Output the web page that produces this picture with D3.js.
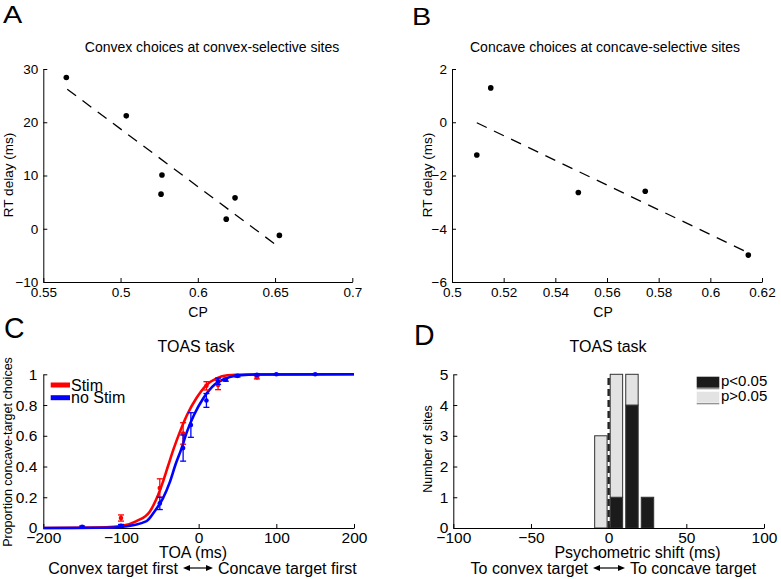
<!DOCTYPE html>
<html><head><meta charset="utf-8">
<script src="https://cdn.jsdelivr.net/npm/d3@7"></script>
<style>
body{margin:0;background:#fff}
text{font-family:"Liberation Sans",Arial,Helvetica,sans-serif;fill:#000}
</style>
</head><body>
<svg id="chart" width="781" height="579" style="background:#fff"></svg>
<script>
// ---------------- DATA ----------------
// Panel A
const cpA = [0.5149, 0.5537, 0.5768, 0.5762, 0.6184, 0.6241, 0.6528];
const rtA = [28.4, 21.2, 10.1, 6.5, 1.8, 5.8, -1.25];
const fitCpA = [0.5155, 0.6528];
const fitRtA = [26.2, -3.5];
const xTicksA = [0.5, 0.55, 0.6, 0.65, 0.7];
const xTickLabelsA = ["0.55", "0.5", "0.6", "0.65", "0.7"];
const yTicksA = [-10, 0, 10, 20, 30];
// Panel B
const cpB = [0.5096, 0.515, 0.5489, 0.5748, 0.6147];
const rtB = [-1.23, 1.29, -2.64, -2.59, -4.99];
const fitCpB = [0.5096, 0.6147];
const fitRtB = [-0.02, -4.9];
const xTicksB = [0.5, 0.52, 0.54, 0.56, 0.58, 0.6, 0.62];
const xTickLabelsB = ["0.5", "0.52", "0.54", "0.56", "0.58", "0.6", "0.62"];
const yTicksB = [-6, -4, -2, 0, 2];
// Panel C
const stimCurveX = [-200, -120, -100, -80, -63, -54, -46, -39, -32, -24, -15, -3, 10, 23, 37, 60, 200];
const stimCurveY = [0, 0.004, 0.012, 0.045, 0.106, 0.193, 0.30, 0.41, 0.518, 0.627, 0.735, 0.844, 0.93, 0.974, 0.994, 0.999, 1];
const noStimCurveX = [-200, -120, -100, -67, -57, -46, -37, -30, -22, -15, -6, 6, 21, 36, 55, 80, 200];
const noStimCurveY = [0, 0.002, 0.007, 0.045, 0.106, 0.193, 0.30, 0.41, 0.518, 0.627, 0.735, 0.844, 0.935, 0.975, 0.994, 0.999, 1];
const stimX = [-100, -50, -20, 10, 25, 75];
const stimY = [0.065, 0.26, 0.615, 0.925, 0.93, 0.98];
const stimErr = [0.02, 0.06, 0.07, 0.027, 0.03, 0.01];
const noStimX = [-150, -100, -50, -20, -10, 10, 25, 35, 50, 75, 100, 150];
const noStimY = [0.008, 0.015, 0.16, 0.52, 0.67, 0.83, 0.955, 0.965, 0.99, 0.997, 1, 1];
const noStimErr = [0.005, 0.008, 0.04, 0.085, 0.08, 0.045, 0.02, 0.01, 0.008, 0.005, 0.003, 0.003];
const xTicksC = [-200, -100, 0, 100, 200];
const yTicksC = [0, 0.2, 0.4, 0.6, 0.8, 1];
const yTickLabelsC = ["0", "0.2", "0.4", "0.6", "0.8", "1"];
const legendC = ["Stim", "no Stim"];
// Panel D
const binCenters = [-5, 5, 15, 25];
const sigCounts = [0, 1, 4, 1];
const nonSigCounts = [3, 4, 1, 0];
const xTicksD = [-100, -50, 0, 50, 100];
const yTicksD = [0, 1, 2, 3, 4, 5];
const legendD = ["p<0.05", "p>0.05"];

// ---------------- DRAW ----------------
const svg = d3.select("#chart");
const FONT = '"Liberation Sans",Arial,Helvetica,sans-serif';

function drawAxes(x, y, o) {
  const gx = svg.append("g").attr("transform", `translate(0,${y.range()[0]})`)
    .call(d3.axisBottom(x).tickValues(o.xt).tickSize(-4).tickSizeOuter(0)
      .tickPadding(o.xpad).tickFormat((d, i) => o.xl ? o.xl[i] : d3.format("")(d)));
  const gy = svg.append("g").attr("transform", `translate(${x.range()[0]},0)`)
    .call(d3.axisLeft(y).tickValues(o.yt).tickSize(-4).tickSizeOuter(0)
      .tickPadding(o.ypad).tickFormat((d, i) => o.yl ? o.yl[i] : d3.format("")(d)));
  [gx, gy].forEach(g => {
    g.attr("font-size", o.fs).attr("font-family", FONT);
    g.selectAll("path.domain").attr("stroke", "#000").attr("stroke-width", 1);
    g.selectAll(".tick line").attr("stroke", "#000");
    g.selectAll(".tick text").attr("fill", "#000").text(function(){return this.textContent.replace("-", "\u2212");});
  });
}
function txt(x, y, s, fs, anchor, rot) {
  const t = svg.append("text").attr("font-size", fs).attr("text-anchor", anchor || "middle").text(s);
  if (rot) t.attr("transform", `translate(${x},${y}) rotate(-90)`);
  else t.attr("x", x).attr("y", y);
  return t;
}
function letter(x, y, s, fs, sx) {
  svg.append("text").attr("font-size", fs).attr("transform", `translate(${x},${y}) scale(${sx},1)`).text(s);
}

// ---- Panel A ----
const xA = d3.scaleLinear().domain([0.5, 0.7]).range([43.3, 352.3]);
const yA = d3.scaleLinear().domain([-10, 30]).range([282, 69]);
drawAxes(xA, yA, {xt: xTicksA, xl: xTickLabelsA, yt: yTicksA, fs: 13.5, xpad: 5, ypad: 5});
svg.append("line").attr("x1", xA(fitCpA[0])).attr("y1", yA(fitRtA[0]))
  .attr("x2", xA(fitCpA[1])).attr("y2", yA(fitRtA[1]))
  .attr("stroke", "#000").attr("stroke-width", 1.3).attr("stroke-dasharray", "11,8");
svg.append("g").selectAll("circle").data(cpA).join("circle")
  .attr("cx", d => xA(d)).attr("cy", (d, i) => yA(rtA[i])).attr("r", 2.8).attr("fill", "#000");
txt(212, 52, "Convex choices at convex-selective sites", 14);
txt(198, 317, "CP", 14);
txt(13, 175, "RT delay (ms)", 13.5, "middle", true);
letter(3, 23, "A", 24, 1.2);

// ---- Panel B ----
const xB = d3.scaleLinear().domain([0.5, 0.62]).range([452, 762]);
const yB = d3.scaleLinear().domain([-6, 2]).range([282, 69]);
drawAxes(xB, yB, {xt: xTicksB, xl: xTickLabelsB, yt: yTicksB, fs: 13.5, xpad: 5, ypad: 5});
svg.append("line").attr("x1", xB(fitCpB[0])).attr("y1", yB(fitRtB[0]))
  .attr("x2", xB(fitCpB[1])).attr("y2", yB(fitRtB[1]))
  .attr("stroke", "#000").attr("stroke-width", 1.3).attr("stroke-dasharray", "11,8");
svg.append("g").selectAll("circle").data(cpB).join("circle")
  .attr("cx", d => xB(d)).attr("cy", (d, i) => yB(rtB[i])).attr("r", 2.8).attr("fill", "#000");
txt(605, 52, "Concave choices at concave-selective sites", 14);
txt(603, 317, "CP", 14);
txt(432, 175, "RT delay (ms)", 13.5, "middle", true);
letter(412, 25, "B", 24, 1.2);

// ---- Panel C ----
const xC = d3.scaleLinear().domain([-200, 200]).range([43.3, 354]);
const yC = d3.scaleLinear().domain([0, 1]).range([528, 374.3]);
drawAxes(xC, yC, {xt: xTicksC, yt: yTicksC, yl: yTickLabelsC, fs: 15.5, xpad: 4, ypad: 6});
const lineC = d3.line().x(d => xC(d[0])).y(d => yC(d[1])).curve(d3.curveMonotoneX);
const RED = "#f00", BLUE = "#00f";
svg.append("path").attr("d", lineC(stimCurveX.map((v, i) => [v, stimCurveY[i]])))
  .attr("fill", "none").attr("stroke", RED).attr("stroke-width", 2.6);
svg.append("path").attr("d", lineC(noStimCurveX.map((v, i) => [v, noStimCurveY[i]])))
  .attr("fill", "none").attr("stroke", BLUE).attr("stroke-width", 2.6);
function errPts(X, Y, E, col) {
  const g = svg.append("g").attr("stroke", col).attr("fill", col);
  X.forEach((v, i) => {
    const cx = xC(v), t = yC(Y[i] + E[i]), b = yC(Y[i] - E[i]);
    g.append("line").attr("x1", cx).attr("x2", cx).attr("y1", t).attr("y2", b).attr("stroke-width", 1.3);
    g.append("line").attr("x1", cx - 3).attr("x2", cx + 3).attr("y1", t).attr("y2", t).attr("stroke-width", 1.3);
    g.append("line").attr("x1", cx - 3).attr("x2", cx + 3).attr("y1", b).attr("y2", b).attr("stroke-width", 1.3);
    g.append("circle").attr("cx", cx).attr("cy", yC(Y[i])).attr("r", 2.3).attr("stroke", "none");
  });
}
errPts(stimX, stimY, stimErr, RED);
errPts(noStimX, noStimY, noStimErr, BLUE);
// legend
[RED, BLUE].forEach((c, i) => {
  const ly = 385 + i * 12.7;
  svg.append("line").attr("x1", 50.7).attr("x2", 70).attr("y1", ly).attr("y2", ly)
    .attr("stroke", c).attr("stroke-width", 5);
  txt(71, ly + 5.5, legendC[i], 16, "start");
});
txt(196, 352, "TOAS task", 16);
txt(193, 558, "TOA (ms)", 16);
txt(12, 452, "Proportion concave-target choices", 12.5, "middle", true);
function arrowLine(x1, x2, y, left, right, cx) {
  txt(x1 - 5, y + 5.5, left, 16, "end");
  txt(x2 + 5, y + 5.5, right, 16, "start");
  svg.append("line").attr("x1", x1 + 3).attr("x2", x2 - 3).attr("y1", y).attr("y2", y)
    .attr("stroke", "#000").attr("stroke-width", 1.2);
  svg.append("path").attr("d", `M${x1},${y}l7,-3v6z`).attr("fill", "#000");
  svg.append("path").attr("d", `M${x2},${y}l-7,-3v6z`).attr("fill", "#000");
}
arrowLine(183, 213, 568, "Convex target first", "Concave target first");
letter(4, 338, "C", 30, 0.95);

// ---- Panel D ----
const xD = d3.scaleLinear().domain([-100, 100]).range([453.3, 764]);
const yD = d3.scaleLinear().domain([0, 5]).range([528, 374.3]);
const BW = 8;
const DARK = "#1b1b1b", LIGHT = "#e3e3e3";
const gb = svg.append("g");
binCenters.forEach((c, i) => {
  const x0 = xD(c - BW / 2), w = xD(c + BW / 2) - xD(c - BW / 2);
  if (sigCounts[i] > 0)
    gb.append("rect").attr("x", x0).attr("width", w).attr("y", yD(sigCounts[i]))
      .attr("height", yD(0) - yD(sigCounts[i])).attr("fill", DARK).attr("stroke", "#333").attr("stroke-width", 1);
  if (nonSigCounts[i] > 0)
    gb.append("rect").attr("x", x0).attr("width", w).attr("y", yD(sigCounts[i] + nonSigCounts[i]))
      .attr("height", yD(sigCounts[i]) - yD(sigCounts[i] + nonSigCounts[i])).attr("fill", LIGHT)
      .attr("stroke", "#333").attr("stroke-width", 1);
});
drawAxes(xD, yD, {xt: xTicksD, yt: yTicksD, fs: 15.5, xpad: 4, ypad: 5});
svg.append("line").attr("x1", xD(0)).attr("x2", xD(0)).attr("y1", yD(0)).attr("y2", yD(5))
  .attr("stroke", "#222").attr("stroke-width", 2.4).attr("stroke-dasharray", "7,4");
[DARK, LIGHT].forEach((c, i) => {
  const ly = 376.7 + i * 15;
  svg.append("rect").attr("x", 696.7).attr("y", ly).attr("width", 22.6).attr("height", 11)
    .attr("fill", c);
  svg.append("line").attr("x1", 696.7).attr("x2", 719.3).attr("y1", ly + 12).attr("y2", ly + 12)
    .attr("stroke", "#888").attr("stroke-width", 1.2);
  txt(721, ly + 9.5, legendD[i], 15, "start");
});
txt(608, 352, "TOAS task", 16);
txt(637.5, 558, "Psychometric shift (ms)", 16);
txt(432, 449, "Number of sites", 12.5, "middle", true);
arrowLine(593, 625, 568, "To convex target", "To concave target");
letter(414, 345, "D", 30, 0.95);
</script>
</body></html>
